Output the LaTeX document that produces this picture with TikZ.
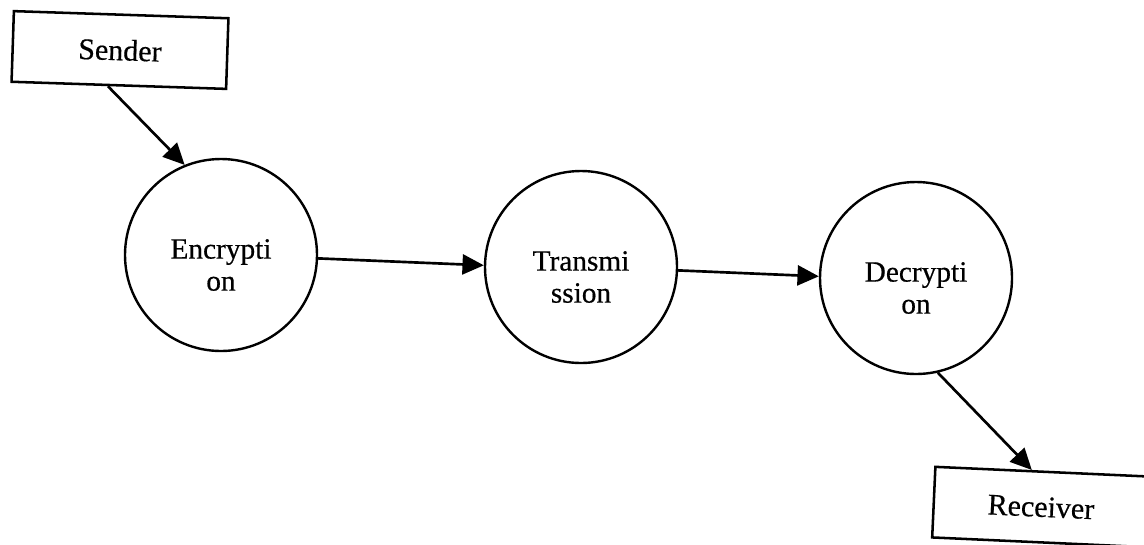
\documentclass[tikz,border=0pt]{standalone}
\usepackage{fontspec}
\setmainfont{Liberation Serif}
\newfontfamily\inkfont{Liberation Serif}[FakeBold=0.5]
\usetikzlibrary{arrows.meta,calc}
\begin{document}
\begin{tikzpicture}[x=0.75pt,y=-0.75pt,
  endbox/.style={draw,line width=1.9pt,minimum width=161pt,minimum height=53pt,
    inner sep=0pt,font=\inkfont\fontsize{22.5}{26}\selectfont},
  stage/.style={draw,circle,line width=1.8pt,minimum size=144pt,inner sep=0pt},
  stagetext/.style={align=center,inner sep=0pt,yshift=-7.5pt,
    font=\inkfont\fontsize{22}{24}\selectfont},
  flow/.style={line width=2pt,-{Triangle[length=16pt,width=15pt]}}]
\useasboundingbox (0,0) rectangle (1144,544);
% boxes for the two ends of the channel
\node[endbox,rotate=-1.9] (sender) at (120,50) {Sender};
\node[endbox,rotate=-2.6] (receiver) at (1041,507) {Receiver};
% processing stages
\node[stage,label={[stagetext]center:Encrypti\\on}] (enc) at (221,255) {};
\node[stage,label={[stagetext]center:Transmi\\ssion}] (trans) at (581,267) {};
\node[stage,label={[stagetext]center:Decrypti\\on}] (dec) at (916,278) {};
% data flow
\draw[flow] ($(sender.south west)!0.45!(sender.south east)$) -- (enc.112);
\draw[flow] (enc.-2) -- (trans.179);
\draw[flow] (trans.-2) -- (dec.179);
\draw[flow] (dec.-77) -- ($(receiver.north west)!0.45!(receiver.north east)$);
\end{tikzpicture}
\end{document}
